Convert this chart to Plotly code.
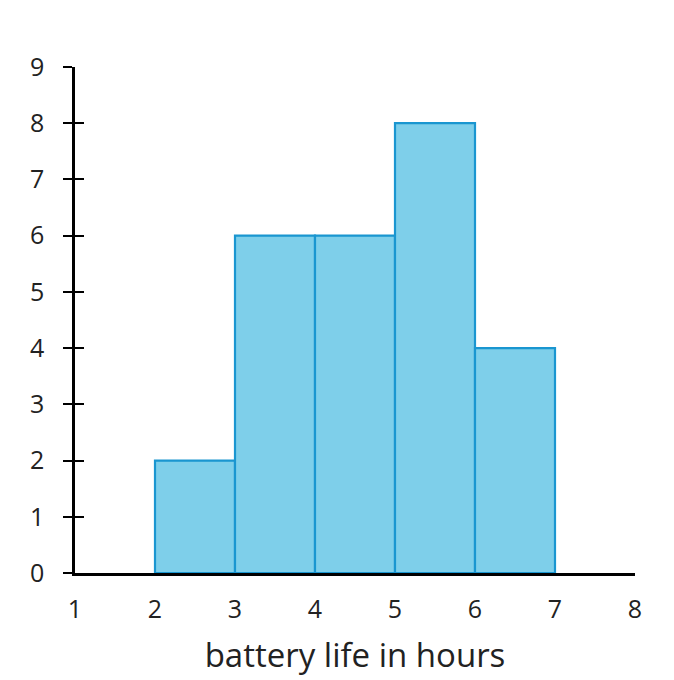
import plotly.graph_objects as go

# bin centres and counts for battery life histogram
bin_centers = [2.5, 3.5, 4.5, 5.5, 6.5]
counts = [2, 6, 6, 8, 4]
x_ticks = [1, 2, 3, 4, 5, 6, 7, 8]
y_ticks = [0, 1, 2, 3, 4, 5, 6, 7, 8, 9]

fig = go.Figure()
fig.add_trace(go.Bar(
    x=bin_centers, y=counts, width=1,
    marker=dict(color="#7ecfea", line=dict(color="#1a96d0", width=2.2)),
    hoverinfo="skip",
))
# invisible trace so the overlaid axis (inside ticks) gets drawn
fig.add_trace(go.Scatter(x=[1], y=[0], yaxis="y2", mode="markers",
                         marker=dict(opacity=0), showlegend=False, hoverinfo="skip"))

font = dict(family="Open Sans, Noto Sans, sans-serif", color="#222222")

fig.update_layout(
    width=674, height=680,
    margin=dict(l=67, r=47, t=59, b=115),
    paper_bgcolor="white", plot_bgcolor="white",
    showlegend=False,
    font=font,
    xaxis=dict(
        range=[1, 8], tickvals=x_ticks, showgrid=False, zeroline=False,
        showline=True, linecolor="black", linewidth=2.5,
        ticks="", tickfont=dict(size=25), ticklabelstandoff=12,
        title=dict(text="battery life in hours", font=dict(size=33), standoff=21),
    ),
    yaxis=dict(
        range=[0, 9], tickvals=y_ticks, showgrid=False, zeroline=False,
        showline=True, linecolor="black", linewidth=2.5,
        ticks="outside", ticklen=9, tickwidth=1.5, tickcolor="black",
        tickfont=dict(size=25), ticklabelstandoff=14,
    ),
    yaxis2=dict(
        range=[0, 9], tickvals=y_ticks, overlaying="y", side="left",
        showgrid=False, zeroline=False, showline=False,
        ticks="inside", ticklen=9, tickwidth=1.5, tickcolor="black",
        showticklabels=False,
    ),
)

fig.write_html("out.html")
